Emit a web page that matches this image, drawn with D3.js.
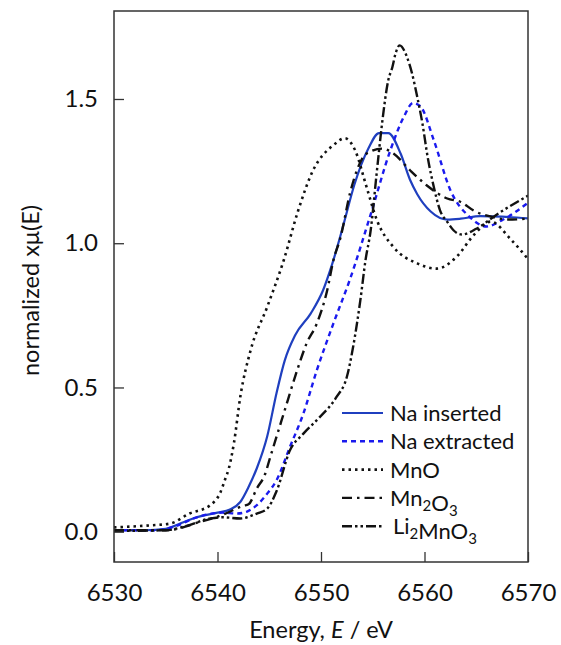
<!DOCTYPE html>
<html lang="en">
<head>
<meta charset="UTF-8"/>
<title>Mn K-edge XANES</title>
<script src="https://d3js.org/d3.v7.min.js"></script>
<style>
    body{
    margin: 0;
    background-color: white;
    }
    text{
    font-family: Lato, "Open Sans", sans-serif;
    fill: #111;
    }
</style>
</head>
<body>
<div id="chart"></div>
<script>

    //Window Size
    var w = 561;
    var h = 645;
    var margin = {top: 11, right: 33, bottom: 83, left: 114};

    //Tick labels
    var xTicks = [6530, 6540, 6550, 6560, 6570];
    var yTicks = [0.0, 0.5, 1.0, 1.5];

    //Na inserted
    var naInsE  = [6530, 6533, 6535, 6536.5, 6538, 6540, 6541.2, 6542.2, 6543, 6543.8, 6544.8, 6545.7, 6546.5, 6547.5, 6549, 6550.2, 6551.1, 6552.2, 6553.2, 6554.6, 6555.6, 6556.5, 6557.7, 6558.6, 6559.3, 6560.6, 6562.2, 6563.5, 6565.4, 6567.5, 6570];
    var naInsMu = [0.005, 0.005, 0.01, 0.03, 0.05, 0.066, 0.077, 0.103, 0.155, 0.22, 0.33, 0.48, 0.594, 0.681, 0.756, 0.837, 0.93, 1.068, 1.2, 1.33, 1.382, 1.382, 1.31, 1.22, 1.17, 1.11, 1.082, 1.085, 1.094, 1.092, 1.086];

    //Na extracted
    var naExtE  = [6530, 6534, 6536, 6538, 6540.5, 6541.9, 6542.8, 6543.8, 6544.8, 6545.7, 6547, 6548.3, 6549.6, 6551.2, 6552.8, 6554.8, 6556.7, 6558, 6558.9, 6559.6, 6560.9, 6562.5, 6564.4, 6566, 6567.5, 6570];
    var naExtMu = [0.005, 0.005, 0.02, 0.05, 0.066, 0.063, 0.069, 0.092, 0.132, 0.178, 0.294, 0.41, 0.56, 0.722, 0.875, 1.10, 1.322, 1.438, 1.486, 1.475, 1.357, 1.184, 1.09, 1.058, 1.08, 1.14];

    //MnO
    var mnoE  = [6530, 6533.5, 6535.4, 6537.3, 6539.3, 6540.3, 6540.7, 6541.1, 6541.6, 6542.2, 6543.2, 6544.8, 6546.4, 6547.8, 6549.2, 6551.2, 6552.3, 6553.3, 6554.4, 6555.4, 6557, 6559.3, 6561.2, 6563.1, 6564.8, 6566.4, 6568.3, 6570];
    var mnoMu = [0.015, 0.022, 0.028, 0.063, 0.092, 0.138, 0.178, 0.22, 0.31, 0.467, 0.629, 0.779, 0.941, 1.114, 1.25, 1.34, 1.364, 1.322, 1.195, 1.08, 0.987, 0.93, 0.912, 0.953, 1.03, 1.075, 1.015, 0.945];

    //Mn2O3
    var mn2o3E  = [6530, 6535, 6538.3, 6540.6, 6542.5, 6543, 6543.8, 6544.6, 6545.1, 6546.4, 6547.7, 6548.6, 6549.6, 6550.6, 6551.2, 6551.9, 6552.8, 6554.1, 6554.8, 6555.9, 6557, 6558.6, 6560.2, 6562.2, 6563.5, 6564.8, 6566.7, 6568, 6570];
    var mn2o3Mu = [0.005, 0.005, 0.034, 0.06, 0.09, 0.095, 0.15, 0.2, 0.259, 0.41, 0.56, 0.652, 0.722, 0.837, 0.941, 1.022, 1.173, 1.3, 1.318, 1.328, 1.311, 1.253, 1.201, 1.155, 1.143, 1.112, 1.09, 1.082, 1.085];

    //Li2MnO3
    var li2E  = [6530, 6535, 6537, 6539.3, 6540.5, 6542.2, 6543.8, 6544.8, 6545.7, 6547, 6548.3, 6549.9, 6551.5, 6552.5, 6553.1, 6553.8, 6554.3, 6554.8, 6555.4, 6555.9, 6556.5, 6556.9, 6557.2, 6557.6, 6558.3, 6558.8, 6559.3, 6559.8, 6560.3, 6560.9, 6561.5, 6562.2, 6562.8, 6563.6, 6565, 6567, 6570];
    var li2Mu = [0.003, 0.005, 0.02, 0.046, 0.05, 0.046, 0.063, 0.08, 0.14, 0.282, 0.34, 0.398, 0.467, 0.537, 0.64, 0.802, 0.941, 1.045, 1.25, 1.415, 1.565, 1.611, 1.657, 1.686, 1.646, 1.588, 1.507, 1.415, 1.30, 1.195, 1.114, 1.074, 1.045, 1.03, 1.05, 1.10, 1.165];

    var series = [
        {name: "Na inserted", e: naInsE, mu: naInsMu, color: "#1f3fbf", dash: null, sw: 2.2},
        {name: "Na extracted", e: naExtE, mu: naExtMu, color: "#1a1aee", dash: "5,4", sw: 2.4},
        {name: "MnO", e: mnoE, mu: mnoMu, color: "#111", dash: "2.5,4", sw: 2.6},
        {name: "Mn2O3", e: mn2o3E, mu: mn2o3Mu, color: "#111", dash: "10,5,2.5,5", sw: 2.4},
        {name: "Li2MnO3", e: li2E, mu: li2Mu, color: "#111", dash: "10,3,2.5,3,2.5,3", sw: 2.4}
    ];

    var pw = w - margin.left - margin.right;
    var ph = h - margin.top - margin.bottom;

    var xScale = d3.scaleLinear()
                .domain([6530, 6570])
                .range([0, pw]);

    var yScale = d3.scaleLinear()
                .domain([-0.105, 1.805])
                .range([ph, 0]);

    var svg = d3.select("#chart")
                .append("svg")
                .attr("width", w)
                .attr("height", h);

    var g = svg.append("g")
                .attr("transform", "translate(" + margin.left + "," + margin.top + ")");

    g.append("clipPath")
        .attr("id", "clip")
        .append("rect")
        .attr("width", pw)
        .attr("height", ph);

    var line = d3.line()
                .x(function(d){ return xScale(d[0]); })
                .y(function(d){ return yScale(d[1]); })
                .curve(d3.curveMonotoneX);

    //Curves
    g.append("g")
        .attr("clip-path", "url(#clip)")
        .selectAll("path")
        .data(series)
        .enter()
        .append("path")
        .attr("d", function(s){
            return line(d3.zip(s.e, s.mu));
        })
        .attr("fill", "none")
        .attr("stroke", function(s){ return s.color; })
        .attr("stroke-width", function(s){ return s.sw; })
        .attr("stroke-dasharray", function(s){ return s.dash; });

    //Axes, ticks point inward
    var xAxis = d3.axisBottom(xScale)
                .tickValues(xTicks)
                .tickSizeInner(-10)
                .tickSizeOuter(0)
                .tickPadding(22)
                .tickFormat(d3.format("d"));

    var yAxis = d3.axisLeft(yScale)
                .tickValues(yTicks)
                .tickSizeInner(-10)
                .tickSizeOuter(0)
                .tickPadding(16)
                .tickFormat(d3.format(".1f"));

    var gx = g.append("g")
        .attr("transform", "translate(0," + ph + ")")
        .call(xAxis);

    var gy = g.append("g")
        .call(yAxis);

    [gx, gy].forEach(function(a){
        a.select(".domain").remove();
        a.selectAll(".tick line").attr("stroke", "#333").attr("stroke-width", 1.3);
        a.selectAll(".tick text")
            .style("font-family", "Lato, sans-serif")
            .style("font-size", "24px")
            .attr("fill", "#111");
    });

    //Frame
    g.append("rect")
        .attr("width", pw)
        .attr("height", ph)
        .attr("fill", "none")
        .attr("stroke", "#333")
        .attr("stroke-width", 1.5);

    //Axis titles
    var xt = svg.append("text")
        .attr("x", margin.left + pw / 2)
        .attr("y", 638)
        .attr("text-anchor", "middle")
        .style("font-size", "23.5px");
    xt.append("tspan").text("Energy, ");
    xt.append("tspan").style("font-style", "italic").text("E");
    xt.append("tspan").text(" / eV");

    var yt = svg.append("text")
        .attr("transform", "translate(39," + (margin.top + ph / 2 + 4) + ") rotate(-90)")
        .attr("text-anchor", "middle")
        .style("font-size", "23.5px");
    yt.append("tspan").text("normalized x\u03bc(E)");

    //Legend
    var legend = g.append("g")
        .attr("transform", "translate(" + (342 - margin.left) + "," + (413 - margin.top) + ")");

    var rows = legend.selectAll("g")
        .data(series)
        .enter()
        .append("g")
        .attr("transform", function(d, i){
            return "translate(0," + (i * 28.3) + ")";
        });

    rows.append("line")
        .attr("x1", 0)
        .attr("x2", 41)
        .attr("stroke", function(s){ return s.color; })
        .attr("stroke-width", function(s){ return s.sw; })
        .attr("stroke-dasharray", function(s){ return s.dash; });

    rows.append("text")
        .attr("x", function(d, i){ return i == 4 ? 51 : 48; })
        .attr("y", 8)
        .style("font-size", "22px")
        .each(function(s){
            var t = d3.select(this);
            // split names so the digits become subscripts
            var parts = s.name.indexOf("Na") == 0 ? [s.name] : s.name.split(/(\d)/);
            parts.forEach(function(p){
                if (p === "") return;
                if (/^\d$/.test(p)) {
                    t.append("tspan").attr("dy", 5).style("font-size", "15px").text(p);
                    t.append("tspan").attr("dy", -5).text("");
                } else {
                    t.append("tspan").text(p);
                }
            });
        });

</script>
</body>
</html>
